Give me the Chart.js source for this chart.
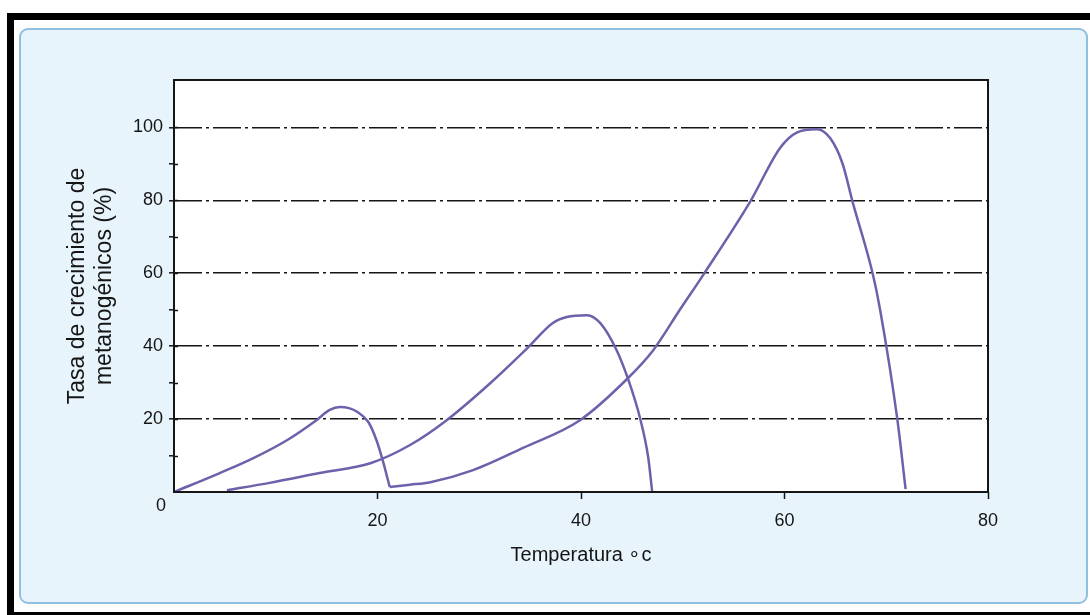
<!DOCTYPE html>
<html>
<head>
<meta charset="utf-8">
<script src="https://cdn.jsdelivr.net/npm/chart.js@4"></script>
<style>
  html, body { margin: 0; padding: 0; background: #fff; }
  #page { position: relative; width: 1090px; height: 615px; overflow: hidden; background: #fff; }
  #frame-top { position: absolute; left: 7px; top: 13px; width: 1083px; height: 7px; background: #000; }
  #frame-left { position: absolute; left: 7px; top: 13px; width: 7px; height: 602px; background: #000; }
  #frame-bottom { position: absolute; left: 7px; top: 612px; width: 1083px; height: 3px; background: #000; }
  #panel {
    position: absolute; left: 19px; top: 28px; width: 1065px; height: 572px;
    background: #e8f4fc; border: 2px solid #8fc0dd; border-radius: 9px;
  }
  #chart { position: absolute; left: 0; top: 0; }
</style>
</head>
<body>
<div id="page">
  <div id="frame-top"></div>
  <div id="frame-left"></div>
  <div id="frame-bottom"></div>
  <div id="panel"></div>
  <canvas id="chart" width="1090" height="615"></canvas>
</div>
<script>
// curva de la izquierda (psicrófilos)
const psicroX = [0, 4.5, 7.8, 11.1, 14.0, 15.3, 16.3, 17.2, 18.0, 19.1, 19.9, 20.5, 21.2];
const psicroY = [0, 5.2, 9.3, 14.2, 19.7, 22.5, 23.3, 23.0, 22.0, 19.2, 14.2, 8.8, 1.4];

// curva del medio (mesófilos)
const mesoX = [5.2, 9.4, 14.3, 19.3, 23.2, 26.8, 31.1, 34.7, 37.2, 38.6, 40.6, 41.9, 43.5, 44.6, 45.8, 46.6, 47.0];
const mesoY = [0.5, 2.5, 5.2, 7.9, 12.9, 19.7, 29.9, 39.4, 46.3, 48.0, 48.5, 46.3, 38.9, 31.2, 20.3, 9.6, 0];

// curva de la derecha (termófilos)
const termoX = [21.2, 23.2, 25.2, 29.4, 34.3, 39.9, 44.6, 47.1, 49.7, 52.0, 56.6, 59.6, 61.2, 63.2, 64.5, 65.7, 66.7, 68.7, 69.4, 71.1, 71.9];
const termoY = [1.4, 2.0, 2.7, 6.0, 12.1, 19.7, 31.2, 38.9, 49.9, 59.5, 79.5, 94.5, 98.6, 99.5, 97.0, 90.1, 79.5, 59.5, 49.9, 19.7, 0.8];

const xTicks = [0, 20, 40, 60, 80];
const yLabels = [20, 40, 60, 80, 100];
const yMinor = [10, 30, 50, 70, 90];

const xTitle = "Temperatura ∘c";
const yTitle = ["Tasa de crecimiento de", "metanogénicos (%)"];

const lineColor = "#6e61ac";
const inkColor = "#151515";
const fontFamily = "'Liberation Sans', Arial, sans-serif";

function toPoints(xs, ys) {
  return xs.map((x, i) => ({ x: x, y: ys[i] }));
}

function curve(xs, ys) {
  return {
    data: toPoints(xs, ys),
    borderColor: lineColor,
    borderWidth: 2.5,
    pointRadius: 0,
    fill: false,
    cubicInterpolationMode: "monotone"
  };
}

// fondo blanco del área, marco y marcas interiores del eje Y
const plotFrame = {
  id: "plotFrame",
  beforeDraw(chart) {
    const { ctx, chartArea: a } = chart;
    ctx.save();
    ctx.fillStyle = "#fff";
    ctx.fillRect(a.left, a.top, a.right - a.left, a.bottom - a.top);
    ctx.restore();
  },
  afterDraw(chart) {
    const { ctx, chartArea: a, scales } = chart;
    ctx.save();
    ctx.strokeStyle = inkColor;
    ctx.lineWidth = 1.5;
    [...yLabels, ...yMinor].forEach(v => {
      const y = Math.round(scales.y.getPixelForValue(v)) + 0.5;
      ctx.beginPath();
      ctx.moveTo(a.left, y);
      ctx.lineTo(a.left + 4, y);
      ctx.stroke();
    });
    ctx.lineWidth = 2;
    ctx.strokeRect(a.left, a.top, a.right - a.left, a.bottom - a.top);
    // el cero de la esquina
    ctx.fillStyle = inkColor;
    ctx.font = "18px " + fontFamily;
    ctx.textAlign = "center";
    ctx.textBaseline = "middle";
    ctx.fillText("0", scales.x.getPixelForValue(0) - 13, scales.y.getPixelForValue(0) + 14);
    ctx.restore();
  }
};

new Chart(document.getElementById("chart"), {
  type: "line",
  data: {
    datasets: [curve(psicroX, psicroY), curve(mesoX, mesoY), curve(termoX, termoY)]
  },
  options: {
    responsive: false,
    animation: false,
    devicePixelRatio: 1,
    layout: { padding: { left: 0, top: 80, right: 102, bottom: 0 } },
    plugins: { legend: { display: false }, tooltip: { enabled: false } },
    scales: {
      x: {
        type: "linear",
        min: 0,
        max: 80,
        afterFit: (scale) => { scale.height = 123; },
        afterBuildTicks: (scale) => { scale.ticks = xTicks.map(v => ({ value: v })); },
        ticks: {
          color: inkColor,
          font: { family: fontFamily, size: 18 },
          padding: 11,
          maxRotation: 0,
          callback: (v) => (v === 0 ? "" : v)
        },
        grid: {
          drawOnChartArea: false,
          tickLength: 7,
          tickWidth: 1.5,
          tickColor: (ctx) => (ctx.tick && ctx.tick.value === 0 ? "transparent" : inkColor)
        },
        border: { display: false },
        title: {
          display: true,
          text: xTitle,
          color: inkColor,
          font: { family: fontFamily, size: 20 },
          padding: { top: 0, bottom: 48 }
        }
      },
      y: {
        type: "linear",
        min: 0,
        max: 113,
        afterFit: (scale) => { scale.width = 174; },
        afterBuildTicks: (scale) => {
          scale.ticks = [0, ...yMinor, ...yLabels].sort((a, b) => a - b).map(v => ({ value: v }));
        },
        ticks: {
          color: inkColor,
          font: { family: fontFamily, size: 18 },
          padding: 6,
          callback: (v) => (yLabels.includes(v) ? v : "")
        },
        grid: {
          color: (ctx) => (ctx.tick && yLabels.includes(ctx.tick.value) ? inkColor : "transparent"),
          lineWidth: 1.6,
          tickLength: 5,
          tickWidth: 1.5,
          tickColor: (ctx) => (ctx.tick && ctx.tick.value > 0 ? inkColor : "transparent")
        },
        border: { display: false, dash: [28, 4, 3, 4] },
        title: {
          display: true,
          text: yTitle,
          color: inkColor,
          font: { family: fontFamily, size: 23, lineHeight: 1.18 },
          padding: { top: 64, bottom: 0 }
        }
      }
    }
  },
  plugins: [plotFrame]
});
</script>
</body>
</html>
